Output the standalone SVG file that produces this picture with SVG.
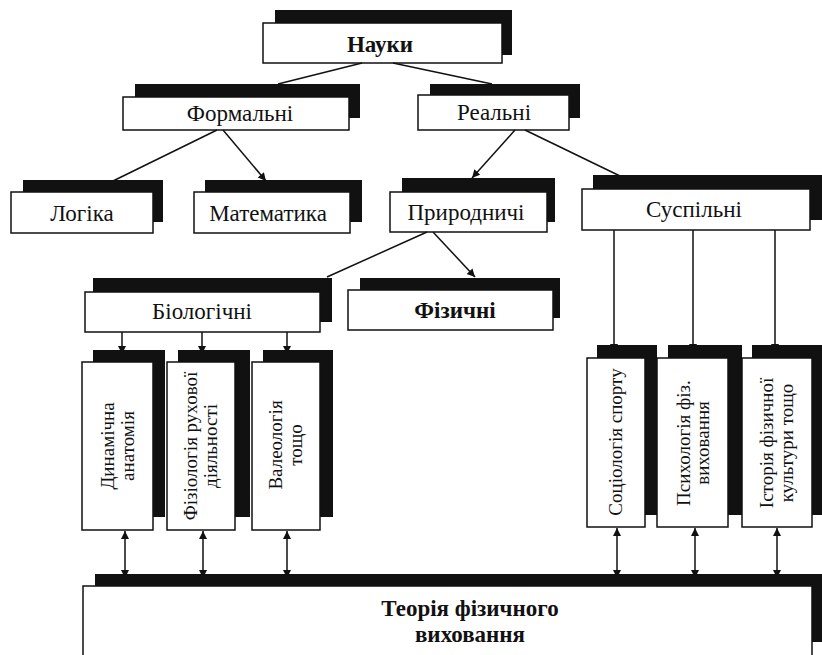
<svg xmlns="http://www.w3.org/2000/svg" width="822" height="655" viewBox="0 0 822 655">
  <defs>
    <style>
      .sh { fill: #111; }
      .bx { fill: #fff; stroke: #111; stroke-width: 1.5; }
      .t { font-family: "Liberation Serif", "Times New Roman", serif; font-size: 23px; fill: #111; text-anchor: middle; }
      .tb { font-weight: bold; }
      .tv { font-size: 19px; }
      .ln { stroke: #111; stroke-width: 1.5; fill: none; }
      .ar { marker-end: url(#arr); }
      .dbl { marker-start: url(#arrs); marker-end: url(#arr); }
    </style>
    <marker id="arr" viewBox="0 0 10 10" refX="10" refY="5" markerWidth="10" markerHeight="8" markerUnits="userSpaceOnUse" orient="auto">
      <path d="M0,0 L10,5 L0,10 z" fill="#111"/>
    </marker>
    <marker id="arrs" viewBox="0 0 10 10" refX="0" refY="5" markerWidth="10" markerHeight="8" markerUnits="userSpaceOnUse" orient="auto">
      <path d="M10,0 L0,5 L10,10 z" fill="#111"/>
    </marker>
  </defs>

  <rect width="822" height="655" fill="#fff"/>

  <!-- top level -->
  <g id="nauky">
    <rect class="sh" x="275" y="10" width="237" height="45"/>
    <rect class="bx" x="263" y="23" width="239" height="40"/>
    <text class="t tb" x="380" y="52" font-size="24">Науки</text>
  </g>

  <g id="formalni">
    <rect class="sh" x="135" y="84" width="225" height="34"/>
    <rect class="bx" x="123" y="97" width="226" height="33"/>
    <text class="t" x="240" y="121">Формальні</text>
  </g>

  <g id="realni">
    <rect class="sh" x="430" y="84" width="150" height="34"/>
    <rect class="bx" x="418" y="95" width="151" height="35"/>
    <text class="t" x="494" y="120">Реальні</text>
  </g>

  <!-- second level -->
  <g id="lohika">
    <rect class="sh" x="23" y="180" width="140" height="42"/>
    <rect class="bx" x="11" y="192" width="142" height="41"/>
    <text class="t" x="82" y="221">Логіка</text>
  </g>

  <g id="matematyka">
    <rect class="sh" x="205" y="180" width="157" height="42"/>
    <rect class="bx" x="194" y="192" width="156" height="41"/>
    <text class="t" x="268" y="221">Математика</text>
  </g>

  <g id="pryrodnychi">
    <rect class="sh" x="402" y="178" width="153" height="44"/>
    <rect class="bx" x="390" y="192" width="157" height="40"/>
    <text class="t" x="466" y="220">Природничі</text>
  </g>

  <g id="suspilni">
    <rect class="sh" x="593" y="175" width="229" height="45"/>
    <rect class="bx" x="582" y="189" width="228" height="41"/>
    <text class="t" x="694" y="217">Суспільні</text>
  </g>

  <!-- third level -->
  <g id="biolohichni">
    <rect class="sh" x="93" y="278" width="239" height="44"/>
    <rect class="bx" x="85" y="292" width="235" height="40"/>
    <text class="t" x="202" y="319" font-size="22">Біологічні</text>
  </g>

  <g id="fizychni">
    <rect class="sh" x="360" y="278" width="200" height="40"/>
    <rect class="bx" x="348" y="290" width="205" height="40"/>
    <text class="t tb" x="455" y="318">Фізичні</text>
  </g>

  <!-- vertical disciplines, biological branch -->
  <g id="dyn-anatomiia">
    <rect class="sh" x="93" y="350" width="72" height="167"/>
    <rect class="bx" x="82" y="362" width="71" height="168"/>
    <text class="t tv" transform="translate(117.5,446) rotate(-90)"><tspan x="0" y="-4">Динамічна</tspan><tspan x="0" y="16">анатомія</tspan></text>
  </g>

  <g id="fiziolohiia">
    <rect class="sh" x="178" y="350" width="72" height="167"/>
    <rect class="bx" x="167" y="362" width="68" height="168"/>
    <text class="t tv" transform="translate(201,446) rotate(-90)"><tspan x="0" y="-4">Фізіологія рухової</tspan><tspan x="0" y="16">діяльності</tspan></text>
  </g>

  <g id="valeolohiia">
    <rect class="sh" x="263" y="350" width="70" height="167"/>
    <rect class="bx" x="252" y="362" width="68" height="168"/>
    <text class="t tv" transform="translate(286,445) rotate(-90)"><tspan x="0" y="-4">Валеологія</tspan><tspan x="0" y="16">тощо</tspan></text>
  </g>

  <!-- vertical disciplines, social branch -->
  <g id="sotsiolohiia">
    <rect class="sh" x="597" y="345" width="60" height="170"/>
    <rect class="bx" x="587" y="358" width="58" height="169"/>
    <text class="t tv" transform="translate(616,442) rotate(-90)"><tspan x="0" y="6">Соціологія спорту</tspan></text>
  </g>

  <g id="psykholohiia">
    <rect class="sh" x="668" y="345" width="74" height="170"/>
    <rect class="bx" x="657" y="358" width="71" height="169"/>
    <text class="t tv" transform="translate(692.5,443) rotate(-90)"><tspan x="0" y="-3">Психологія фіз.</tspan><tspan x="0" y="16">виховання</tspan></text>
  </g>

  <g id="istoriia">
    <rect class="sh" x="752" y="345" width="70" height="170"/>
    <rect class="bx" x="742" y="358" width="70" height="169"/>
    <text class="t tv" transform="translate(777,443) rotate(-90)"><tspan x="0" y="-4">Історія фізичної</tspan><tspan x="0" y="16">культури тощо</tspan></text>
  </g>

  <!-- base -->
  <g id="teoriia">
    <rect class="sh" x="95" y="574" width="727" height="68"/>
    <rect class="bx" x="83" y="586" width="729" height="70"/>
    <text class="t tb" x="470" y="616" font-size="21">Теорія фізичного</text>
    <text class="t tb" x="470" y="642" font-size="21">виховання</text>
  </g>

  <!-- connectors -->
  <g id="connectors">
    <line class="ln" x1="362" y1="63" x2="278" y2="84"/>
    <line class="ln" x1="393" y1="63" x2="492" y2="84"/>
    <line class="ln" x1="217" y1="130" x2="113" y2="181"/>
    <line class="ln ar" x1="223" y1="130" x2="266" y2="181"/>
    <line class="ln ar" x1="515" y1="130" x2="472" y2="178"/>
    <line class="ln" x1="525" y1="130" x2="620" y2="176"/>
    <line class="ln" x1="427" y1="232" x2="327" y2="277"/>
    <line class="ln ar" x1="433" y1="232" x2="475" y2="277"/>

    <line class="ln ar" x1="614" y1="230" x2="614" y2="352"/>
    <line class="ln ar" x1="693" y1="230" x2="693" y2="352"/>
    <line class="ln ar" x1="775" y1="230" x2="775" y2="352"/>

    <line class="ln ar" x1="122" y1="332" x2="122" y2="354"/>
    <line class="ln ar" x1="202" y1="332" x2="202" y2="354"/>
    <line class="ln ar" x1="287" y1="332" x2="287" y2="354"/>

    <line class="ln dbl" x1="125" y1="531" x2="125" y2="578"/>
    <line class="ln dbl" x1="203" y1="531" x2="203" y2="578"/>
    <line class="ln dbl" x1="287" y1="531" x2="287" y2="578"/>
    <line class="ln dbl" x1="617" y1="528" x2="617" y2="578"/>
    <line class="ln dbl" x1="695" y1="528" x2="695" y2="578"/>
    <line class="ln dbl" x1="777" y1="528" x2="777" y2="578"/>
  </g>
</svg>
